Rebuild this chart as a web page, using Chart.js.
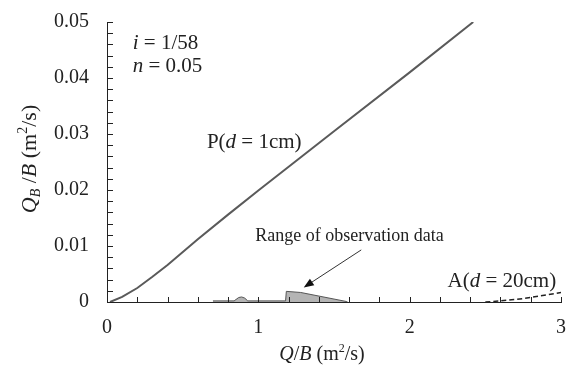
<!DOCTYPE html>
<html>
<head>
<meta charset="utf-8">
<script src="https://cdn.jsdelivr.net/npm/chart.js@4"></script>
<style>
  html, body { margin: 0; padding: 0; background: #fff; }
  #wrap { width: 578px; height: 365px; }
</style>
</head>
<body>
<div id="wrap"><canvas id="chart" width="578" height="365"></canvas></div>
<script>
// curve P (d = 1cm)
const pX = [0.02, 0.1, 0.2, 0.3, 0.4, 0.6, 0.8, 1.0, 1.5, 2.0, 2.42];
const pY = [0, 0.0009, 0.0025, 0.0045, 0.0066, 0.0112, 0.0156, 0.0199, 0.0305, 0.041, 0.05];

// range of observation data (shaded)
const obsX = [0.70, 0.84, 0.87, 0.89, 0.91, 0.93, 1.18, 1.185, 1.28, 1.58, 1.59];
const obsY = [0.0002, 0.0002, 0.0008, 0.0009, 0.0007, 0.0002, 0.0002, 0.0019, 0.0017, 0.0001, 0];

// curve A (d = 20cm)
const aX = [2.5, 2.6, 2.75, 3.0];
const aY = [0, 0.0002, 0.0006, 0.0017];

const xTicks = [0, 1, 2, 3];
const yTicks = [0, 0.01, 0.02, 0.03, 0.04, 0.05];

const SERIF = '"Liberation Serif", "Times New Roman", serif';
const INK = '#222';

const pts = (xs, ys) => xs.map((x, i) => ({ x, y: ys[i] }));

// draw text made of pieces: {t, it, sub, sup}
function drawRich(ctx, segs, x, y, size, align) {
  const fontOf = s => (s.it ? 'italic ' : '') + Math.round((s.sub || s.sup) ? size * 0.62 : size) + 'px ' + SERIF;
  let w = 0;
  segs.forEach(s => { ctx.font = fontOf(s); w += ctx.measureText(s.t).width; });
  let cx = align === 'center' ? x - w / 2 : x;
  ctx.textBaseline = 'middle';
  ctx.textAlign = 'left';
  segs.forEach(s => {
    ctx.font = fontOf(s);
    let dy = 0;
    if (s.sub) dy = size * 0.28;
    if (s.sup) dy = -size * 0.3;
    ctx.fillText(s.t, cx, y + dy);
    cx += ctx.measureText(s.t).width;
  });
}

const notes = [
  { x: 0.17, y: 0.0461, size: 21, segs: [{ t: 'i', it: 1 }, { t: ' = 1/58' }] },
  { x: 0.17, y: 0.0420, size: 21, segs: [{ t: 'n', it: 1 }, { t: ' = 0.05' }] },
  { x: 0.66, y: 0.0284, size: 21, segs: [{ t: 'P(' }, { t: 'd', it: 1 }, { t: ' = 1cm)' }] },
  { x: 0.98, y: 0.0118, size: 18, segs: [{ t: 'Range of observation data' }] },
  { x: 2.25, y: 0.00375, size: 21, segs: [{ t: 'A(' }, { t: 'd', it: 1 }, { t: ' = 20cm)' }] }
];

const extras = {
  id: 'extras',
  afterDraw(chart) {
    const { ctx, scales: { x, y }, chartArea } = chart;
    ctx.save();
    ctx.strokeStyle = INK;
    ctx.lineWidth = 1;
    // inward ticks
    ctx.beginPath();
    for (let v = 0.2; v <= 3.001; v += 0.2) {
      const px = Math.round(x.getPixelForValue(v)) + 0.5;
      ctx.moveTo(px, chartArea.bottom);
      ctx.lineTo(px, chartArea.bottom - 5);
    }
    for (let v = 0.002; v <= 0.0501; v += 0.002) {
      const py = Math.round(y.getPixelForValue(v)) + 0.5;
      ctx.moveTo(chartArea.left, py);
      ctx.lineTo(chartArea.left + 6, py);
    }
    ctx.stroke();

    ctx.fillStyle = INK;
    notes.forEach(n => drawRich(ctx, n.segs, x.getPixelForValue(n.x), y.getPixelForValue(n.y), n.size, 'left'));

    // arrow
    const x1 = x.getPixelForValue(1.68), y1 = y.getPixelForValue(0.0093);
    const x2 = x.getPixelForValue(1.30), y2 = y.getPixelForValue(0.0026);
    const ang = Math.atan2(y2 - y1, x2 - x1);
    ctx.strokeStyle = '#333';
    ctx.beginPath();
    ctx.moveTo(x1, y1);
    ctx.lineTo(x2 - 6 * Math.cos(ang), y2 - 6 * Math.sin(ang));
    ctx.stroke();
    ctx.beginPath();
    ctx.moveTo(x2, y2);
    ctx.lineTo(x2 - 10 * Math.cos(ang) + 4 * Math.sin(ang), y2 - 10 * Math.sin(ang) - 4 * Math.cos(ang));
    ctx.lineTo(x2 - 10 * Math.cos(ang) - 4 * Math.sin(ang), y2 - 10 * Math.sin(ang) + 4 * Math.cos(ang));
    ctx.closePath();
    ctx.fillStyle = '#111';
    ctx.fill();

    // axis titles
    ctx.fillStyle = INK;
    drawRich(ctx, [{ t: 'Q', it: 1 }, { t: '/' }, { t: 'B', it: 1 }, { t: ' (m' }, { t: '2', sup: 1 }, { t: '/s)' }],
      322, 355, 20, 'center');
    ctx.translate(30, 159);
    ctx.rotate(-Math.PI / 2);
    drawRich(ctx, [{ t: 'Q', it: 1 }, { t: 'B', it: 1, sub: 1 }, { t: ' /' }, { t: 'B', it: 1 }, { t: ' (m' }, { t: '2', sup: 1 }, { t: '/s)' }],
      0, 0, 22, 'center');
    ctx.restore();
  }
};

new Chart(document.getElementById('chart').getContext('2d'), {
  type: 'scatter',
  data: {
    datasets: [
      {
        data: pts(pX, pY),
        showLine: true,
        borderColor: '#5a5a5a',
        borderWidth: 2,
        pointRadius: 0,
        fill: false
      },
      {
        data: pts(obsX, obsY),
        showLine: true,
        borderColor: '#555',
        borderWidth: 1,
        backgroundColor: '#b4b4b4',
        pointRadius: 0,
        fill: 'origin'
      },
      {
        data: pts(aX, aY),
        showLine: true,
        borderColor: '#222',
        borderWidth: 1.5,
        borderDash: [5, 3],
        pointRadius: 0,
        fill: false
      }
    ]
  },
  options: {
    responsive: false,
    animation: false,
    layout: { padding: { top: 22, right: 17, left: 0, bottom: 0 } },
    plugins: { legend: { display: false }, tooltip: { enabled: false } },
    scales: {
      x: {
        type: 'linear',
        min: 0,
        max: 3,
        afterBuildTicks: s => { s.ticks = xTicks.map(v => ({ value: v })); },
        afterFit: s => { s.height = 63; s.paddingLeft = 0; s.paddingRight = 0; },
        grid: { display: false, drawTicks: false },
        border: { display: true, color: INK, width: 1 },
        ticks: { color: INK, padding: 14, font: { family: SERIF, size: 20 }, callback: v => String(v) }
      },
      y: {
        type: 'linear',
        min: 0,
        max: 0.05,
        afterBuildTicks: s => { s.ticks = yTicks.map(v => ({ value: v })); },
        afterFit: s => { s.width = 107; s.paddingTop = 0; s.paddingBottom = 0; },
        grid: { display: false, drawTicks: false },
        border: { display: true, color: INK, width: 1 },
        ticks: { color: INK, padding: 18, font: { family: SERIF, size: 20 }, callback: v => (v === 0 ? '0' : v.toFixed(2)) }
      }
    }
  },
  plugins: [extras]
});
</script>
</body>
</html>
